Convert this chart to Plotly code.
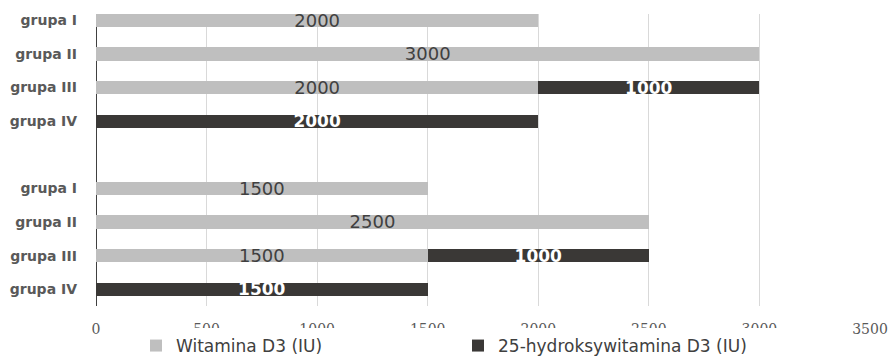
import plotly.graph_objects as go

# Row labels, top to bottom (two blocks of four groups separated by an empty row)
groups = ["grupa I", "grupa II", "grupa III", "grupa IV",
          "",
          "grupa I", "grupa II", "grupa III", "grupa IV"]

# Values in IU for each row (None = no bar)
vitamin_d3 = [2000, 3000, 2000, None, None, 1500, 2500, 1500, None]
hydroxy_d3 = [None, None, 1000, 2000, None, None, None, 1000, 1500]

x_ticks = [0, 500, 1000, 1500, 2000, 2500, 3000, 3500]

# numeric row positions: top row highest
n = len(groups)
ypos = [n - 1 - i for i in range(n)]

GRAY = "#BFBFBF"
DARK = "#3A3836"
FONT = "DejaVu Sans"

fig = go.Figure()
fig.add_trace(go.Bar(
    name="Witamina D3 (IU)", y=ypos, x=vitamin_d3, orientation="h",
    marker=dict(color=GRAY, line=dict(width=0)), width=0.39,
    texttemplate="%{x}", textposition="inside", insidetextanchor="middle",
    constraintext="none",
    textfont=dict(family=FONT, size=18, color="#404040"),
    hoverinfo="skip",
))
fig.add_trace(go.Bar(
    name="25-hydroksywitamina D3 (IU)", y=ypos, x=hydroxy_d3, orientation="h",
    marker=dict(color=DARK, line=dict(width=0)), width=0.39,
    texttemplate="%{x}", textposition="inside", insidetextanchor="middle",
    constraintext="none",
    textfont=dict(family=FONT, size=17, color="#FFFFFF", weight="bold"),
    hoverinfo="skip",
))

fig.update_layout(
    barmode="stack",
    width=890, height=357,
    margin=dict(l=96, r=20, t=14, b=51, autoexpand=False),
    paper_bgcolor="white", plot_bgcolor="white",
    xaxis=dict(
        range=[0, 3500], tickvals=x_ticks, ticktext=[str(v) for v in x_ticks],
        showgrid=True, gridcolor="#D9D9D9", gridwidth=1,
        zeroline=True, zerolinecolor="#404040", zerolinewidth=1,
        showline=False, ticks="", ticklabelstandoff=13, automargin=False,
        tickfont=dict(family="DejaVu Serif", size=14, color="#595959"),
        fixedrange=True,
    ),
    yaxis=dict(
        range=[-0.5, 8.19], tickvals=ypos, ticktext=groups,
        showgrid=False, zeroline=False, showline=False, ticks="",
        ticklabelstandoff=18, automargin=False,
        tickfont=dict(family=FONT, size=14, color="#595959", weight="bold"),
        fixedrange=True,
    ),
    legend=dict(
        orientation="h", xref="container", yref="container",
        x=136 / 890, y=11 / 357, xanchor="left", yanchor="middle",
        entrywidth=277, entrywidthmode="pixels", itemwidth=30,
        font=dict(family=FONT, size=17, color="#404040"),
        traceorder="normal",
    ),
    showlegend=True,
)

fig.write_html("out.html")
